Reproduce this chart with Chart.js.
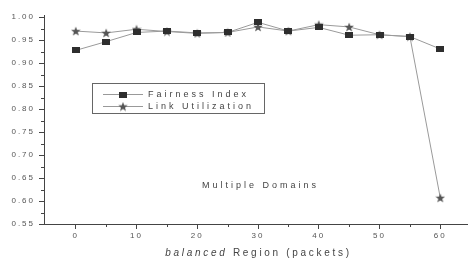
<!DOCTYPE html>
<html><head><meta charset="utf-8">
<script src="https://cdn.jsdelivr.net/npm/chart.js@4/dist/chart.umd.min.js"></script>
<style>html,body{margin:0;padding:0;background:#fff}#wrap{width:473px;height:265px}</style>
</head><body><div id="wrap"><canvas id="c" width="473" height="265"></canvas></div>
<script>
const bufferSizes = [0, 5, 10, 15, 20, 25, 30, 35, 40, 45, 50, 55, 60];
const fairnessIndex = [0.928, 0.947, 0.967, 0.970, 0.966, 0.967, 0.989, 0.970, 0.978, 0.961, 0.962, 0.958, 0.931];
const linkUtilization = [0.970, 0.966, 0.974, 0.969, 0.965, 0.967, 0.979, 0.970, 0.984, 0.979, 0.962, 0.958, 0.607];
const xMajorTicks = [0, 10, 20, 30, 40, 50, 60];
const xMinorTicks = [5, 15, 25, 35, 45, 55];
const yMajorTicks = [0.55, 0.60, 0.65, 0.70, 0.75, 0.80, 0.85, 0.90, 0.95, 1.00];
const yMinorTicks = [0.575, 0.625, 0.675, 0.725, 0.775, 0.825, 0.875, 0.925, 0.975];
const seriesNames = ['Fairness Index', 'Link Utilization'];
const xTitleItalic = 'balanced';
const xTitleRest = ' Region (packets)';
const annotationText = 'Multiple Domains';

function makeSquare() {
  const c = document.createElement('canvas'); c.width = 8; c.height = 6;
  const g = c.getContext('2d'); g.fillStyle = '#2e2e2e'; g.fillRect(0, 0, 8, 6);
  return c;
}
function makeStar() {
  const c = document.createElement('canvas'); c.width = 10; c.height = 10;
  const g = c.getContext('2d'); g.fillStyle = '#555';
  g.beginPath();
  for (let i = 0; i < 10; i++) {
    const r = i % 2 === 0 ? 5 : 2.1;
    const a = -Math.PI / 2 + i * Math.PI / 5;
    const x = 5 + r * Math.cos(a), y = 5.4 + r * Math.sin(a);
    i === 0 ? g.moveTo(x, y) : g.lineTo(x, y);
  }
  g.closePath(); g.fill();
  return c;
}
const sq = makeSquare(), st = makeStar();

const TXT = '#555';
const FONT = 'Arial, "Liberation Sans", sans-serif';

const extras = {
  id: 'extras',
  beforeDraw(chart) { chart.ctx.letterSpacing = '2px'; },
  afterDraw(chart) {
    const ctx = chart.ctx, xs = chart.scales.x, ys = chart.scales.y;
    ctx.save();
    ctx.strokeStyle = '#444'; ctx.lineWidth = 1;
    // minor ticks
    ctx.beginPath();
    xMinorTicks.forEach(v => { const px = Math.round(xs.getPixelForValue(v)) + 0.5; ctx.moveTo(px, ys.bottom); ctx.lineTo(px, ys.bottom + 3); });
    yMinorTicks.forEach(v => { const py = Math.round(ys.getPixelForValue(v)) + 0.5; ctx.moveTo(xs.left, py); ctx.lineTo(xs.left - 3, py); });
    ctx.stroke();
    // annotation
    ctx.fillStyle = '#444';
    ctx.letterSpacing = '3px';
    ctx.font = '9px ' + FONT;
    ctx.textBaseline = 'middle'; ctx.textAlign = 'left';
    ctx.fillText(annotationText, 202, 186);
    // x title
    ctx.font = 'italic 10px ' + FONT;
    ctx.letterSpacing = '2.7px';
    const w1 = ctx.measureText(xTitleItalic).width;
    ctx.font = '10px ' + FONT;
    const w2 = ctx.measureText(xTitleRest).width;
    const cx = (xs.left + xs.right) / 2 + 3;
    let sx = cx - (w1 + w2) / 2;
    ctx.font = 'italic 10px ' + FONT;
    ctx.fillText(xTitleItalic, sx, 253);
    ctx.font = '10px ' + FONT;
    ctx.fillText(xTitleRest, sx + w1, 253);
    // legend
    ctx.strokeStyle = '#666';
    ctx.strokeRect(92.5, 83.5, 172, 30);
    const rows = [94.5, 106.5];
    const imgs = [sq, st];
    rows.forEach((y, i) => {
      ctx.strokeStyle = '#999'; ctx.beginPath(); ctx.moveTo(103, y); ctx.lineTo(143, y); ctx.stroke();
      Chart.helpers.drawPoint(ctx, { pointStyle: imgs[i], radius: 4, rotation: 0, borderWidth: 0 }, 123, y);
      ctx.fillStyle = '#444';
      ctx.font = '9px ' + FONT; ctx.letterSpacing = '3px';
      ctx.fillText(chart.data.datasets[i].label, 148, y + 0.5);
    });
    ctx.restore();
  }
};

new Chart(document.getElementById('c'), {
  type: 'line',
  data: {
    datasets: [
      { label: seriesNames[0], data: bufferSizes.map((x, i) => ({ x, y: fairnessIndex[i] })),
        borderColor: '#9a9a9a', borderWidth: 1, pointStyle: sq, pointRadius: 4, tension: 0 },
      { label: seriesNames[1], data: bufferSizes.map((x, i) => ({ x, y: linkUtilization[i] })),
        borderColor: '#9a9a9a', borderWidth: 1, pointStyle: st, pointRadius: 5, tension: 0 }
    ]
  },
  options: {
    responsive: false, animation: false, devicePixelRatio: 1,
    layout: { padding: { top: 15, right: 3, left: 0, bottom: 0 } },
    plugins: { legend: { display: false }, tooltip: { enabled: false } },
    scales: {
      x: {
        type: 'linear', min: -5.23, max: 64.4,
        afterBuildTicks: s => { s.ticks = xMajorTicks.map(v => ({ value: v })); },
        afterFit: s => { s.height = 41; },
        border: { color: '#444', width: 1 },
        grid: { drawOnChartArea: false, tickLength: 5, color: '#444' },
        ticks: { color: TXT, font: { size: 8, family: FONT }, padding: 2, maxRotation: 0 }
      },
      y: {
        min: 0.55, max: 1.005,
        afterBuildTicks: s => { s.ticks = yMajorTicks.map(v => ({ value: v })); },
        afterFit: s => { s.width = 44; },
        border: { color: '#444', width: 1 },
        grid: { drawOnChartArea: false, tickLength: 5, color: '#444' },
        ticks: { color: TXT, font: { size: 8, family: FONT }, padding: 4, callback: v => v.toFixed(2) }
      }
    }
  },
  plugins: [extras]
});
</script></body></html>
